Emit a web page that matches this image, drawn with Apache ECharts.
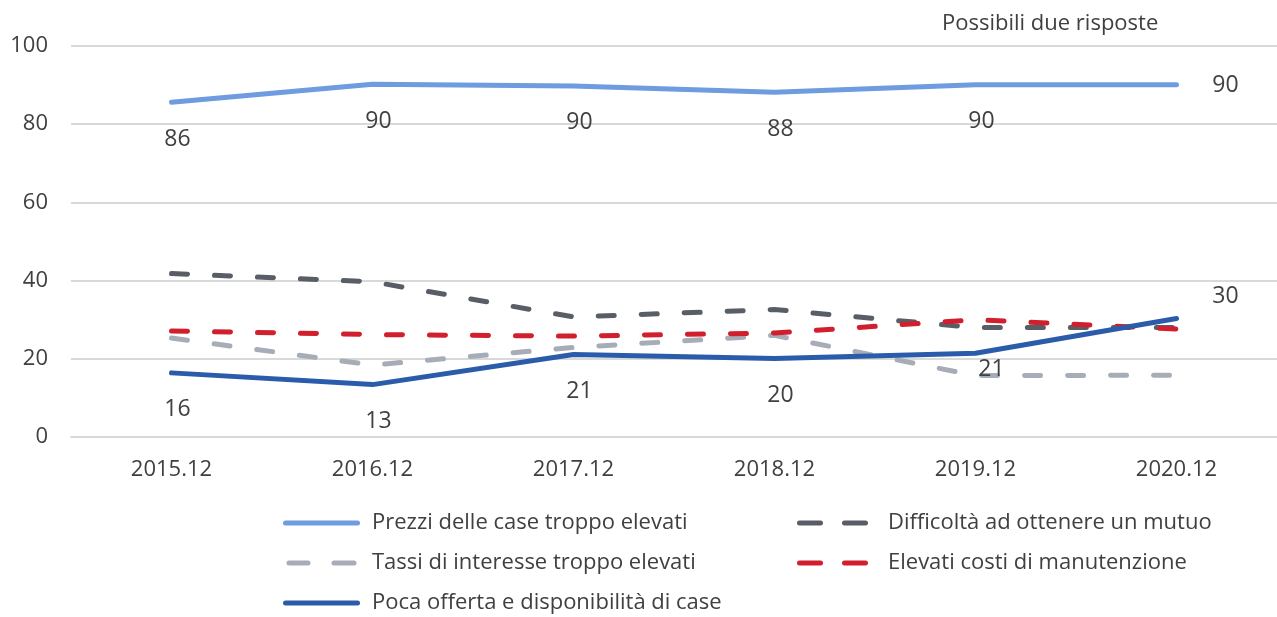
<!DOCTYPE html>
<html>
<head>
<meta charset="utf-8">
<script src="https://cdn.jsdelivr.net/npm/echarts@6/dist/echarts.min.js"></script>
<style>
  html, body { margin: 0; padding: 0; background: #fff; }
  #main { width: 1277px; height: 617px; }
</style>
</head>
<body>
<div id="main"></div>
<script>
// categorie e valori
var categories = ['2015.12', '2016.12', '2017.12', '2018.12', '2019.12', '2020.12'];
var yTicks = [0, 20, 40, 60, 80, 100];

var prezzi = [85.6, 90.2, 89.8, 88.2, 90.1, 90.1];
var difficolta = [41.8, 39.7, 30.7, 32.6, 28.0, 28.0];
var tassi = [25.3, 18.4, 22.9, 26.0, 15.7, 15.8];
var costi = [27.1, 26.2, 25.8, 26.6, 30.0, 27.6];
var offerta = [16.4, 13.4, 21.1, 20.1, 21.4, 30.3];

var names = [
  'Prezzi delle case troppo elevati',
  'Difficoltà ad ottenere un mutuo',
  'Tassi di interesse troppo elevati',
  'Elevati costi di manutenzione',
  'Poca offerta e disponibilità di case'
];

var FONT = 'Open Sans';
var TXT = '#404040';

// icone della legenda (trattini con estremi arrotondati)
var cap = 'a2.5,2.5 0 0 1 0,5';
var capBack = 'a2.5,2.5 0 0 1 0,-5z';
var iconSolid = 'path://M2.5,0h72' + cap + 'h-72' + capBack;
var iconDash1 = 'path://M2.5,0h19' + cap + 'h-19' + capBack + 'M47.5,0h20' + cap + 'h-20' + capBack;
var iconDash2 = 'path://M2.5,0h21' + cap + 'h-21' + capBack + 'M47.5,0h21' + cap + 'h-21' + capBack;

var chart = echarts.init(document.getElementById('main'));

// etichette: sotto il punto, tranne alcuni casi particolari
function labelled(values, special) {
  return values.map(function (v, i) {
    var item = { value: v };
    if (special[i]) item.label = { position: special[i] };
    return item;
  });
}

var baseLabel = {
  show: true,
  position: [6, 37],
  align: 'center',
  verticalAlign: 'middle',
  color: TXT,
  fontSize: 23,
  fontFamily: FONT,
  formatter: function (p) { return Math.round(p.value); }
};

function line(name, data, color, dashed, label) {
  return {
    name: name,
    type: 'line',
    data: data,
    symbol: 'circle',
    symbolSize: 0.1,
    showSymbol: true,
    smooth: false,
    lineStyle: {
      color: color,
      width: 5,
      type: dashed ? [16, 27] : 'solid',
      cap: 'round'
    },
    itemStyle: { color: color },
    label: label || { show: false },
    labelLayout: { hideOverlap: false },
    emphasis: { disabled: true }
  };
}

var legendText = { color: TXT, fontSize: 22, fontFamily: FONT, lineHeight: 22 };

chart.setOption({
  animation: false,
  textStyle: { fontFamily: FONT },
  title: {
    text: 'Possibili due risposte',
    left: 942,
    top: 13,
    padding: 0,
    textStyle: { fontSize: 22, fontWeight: 'normal', color: TXT, fontFamily: FONT }
  },
  grid: { left: 71, top: 46, width: 1211, height: 391 },
  xAxis: {
    type: 'category',
    data: categories,
    boundaryGap: true,
    axisLine: { lineStyle: { color: '#d9d9d9', width: 2 } },
    axisTick: { show: false },
    axisLabel: { color: TXT, fontSize: 22, fontFamily: FONT, margin: 22 }
  },
  yAxis: {
    type: 'value',
    min: yTicks[0],
    max: yTicks[yTicks.length - 1],
    interval: 20,
    axisLine: { show: false },
    axisTick: { show: false },
    splitLine: { lineStyle: { color: '#d9d9d9', width: 2 } },
    axisLabel: { color: TXT, fontSize: 22, fontFamily: FONT, margin: 23 }
  },
  legend: [
    {
      left: 283, top: 512, orient: 'vertical', padding: 0,
      itemWidth: 77, itemHeight: 5, itemGap: 18,
      data: [
        { name: names[0], icon: iconSolid },
        { name: names[2], icon: iconDash1 },
        { name: names[4], icon: iconSolid }
      ],
      textStyle: Object.assign({ padding: [0, 0, 0, 7] }, legendText)
    },
    {
      left: 797, top: 512, orient: 'vertical', padding: 0,
      itemWidth: 71, itemHeight: 5, itemGap: 18,
      data: [
        { name: names[1], icon: iconDash2 },
        { name: names[3], icon: iconDash2 }
      ],
      textStyle: Object.assign({ padding: [0, 0, 0, 15] }, legendText)
    }
  ],
  series: [
    line(names[0], labelled(prezzi, { 5: [49, 1] }), '#6f9be0', false, baseLabel),
    line(names[1], difficolta, '#595e66', true),
    line(names[2], tassi, '#a6adb6', true),
    line(names[3], costi, '#d11f2d', true),
    line(names[4], labelled(offerta, { 4: [16, 16], 5: [49, -22] }), '#2b5cab', false, baseLabel)
  ]
});
</script>
</body>
</html>
